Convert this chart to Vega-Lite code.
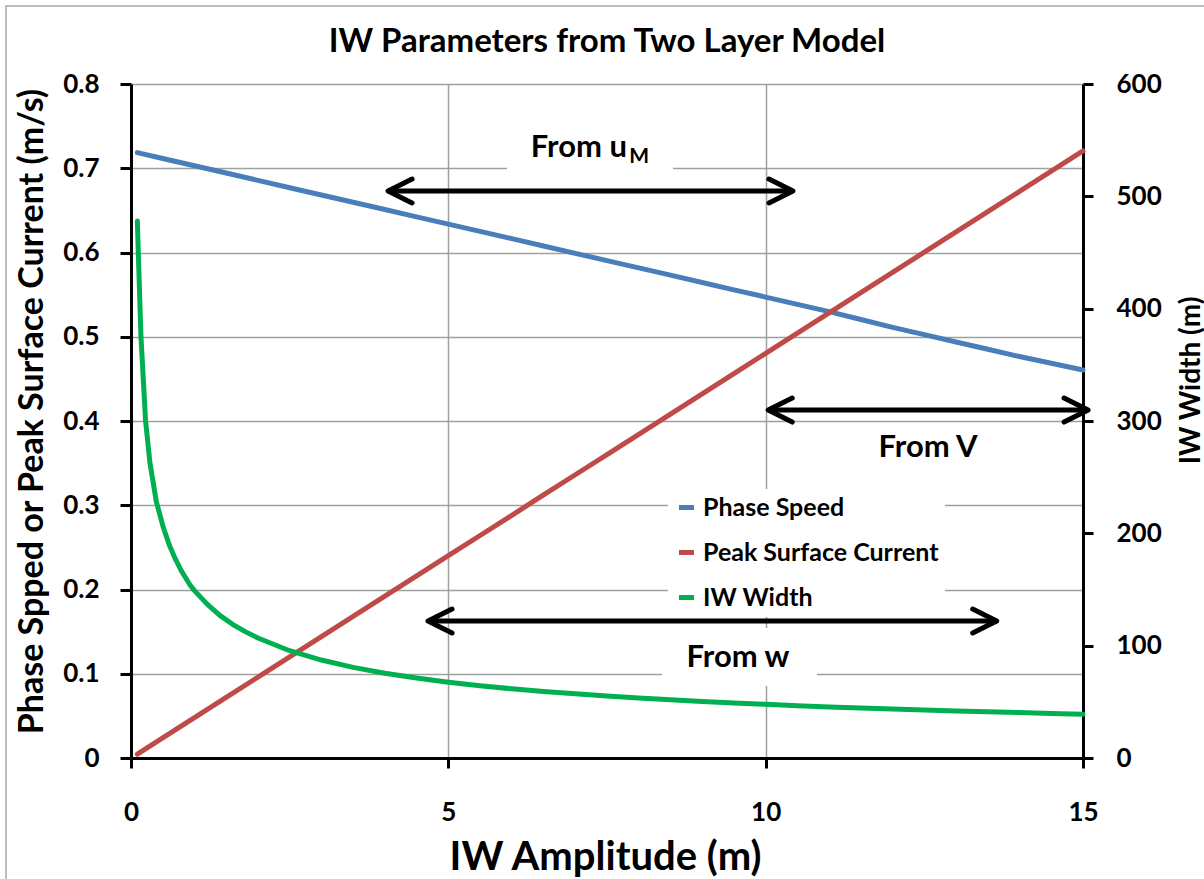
{
  "$schema": "https://vega.github.io/schema/vega-lite/v6.json",
  "width": 952,
  "height": 674,
  "autosize": {"type": "none"},
  "padding": {"left": 131, "top": 84, "right": 121, "bottom": 121},
  "background": "white",
  "config": {
    "view": {"stroke": null},
    "font": "Lato",
    "axis": {"labelFlush": false, "labelOverlap": false},
    "legend": {
      "orient": "none",
      "legendX": 537,
      "legendY": 405,
      "fillColor": "white",
      "padding": 6,
      "symbolType": "stroke",
      "symbolSize": 225,
      "symbolStrokeWidth": 5,
      "labelFont": "Lato",
      "labelFontWeight": "bold",
      "labelFontSize": 25,
      "labelColor": "black",
      "labelOffset": 4,
      "labelLimit": 400,
      "rowPadding": 19,
      "titlePadding": 0
    }
  },
  "title": {
    "text": "IW Parameters from Two Layer Model",
    "font": "Lato",
    "fontSize": 33,
    "fontWeight": "bold",
    "color": "black",
    "anchor": "middle",
    "frame": "group",
    "baseline": "alphabetic",
    "offset": -80
  },
  "datasets": {
    "speed": [
      {"A": 0.1, "series": "Phase Speed", "v": 0.7185},
      {"A": 0.5, "series": "Phase Speed", "v": 0.7116},
      {"A": 1.0, "series": "Phase Speed", "v": 0.7029},
      {"A": 1.5, "series": "Phase Speed", "v": 0.6943},
      {"A": 2.0, "series": "Phase Speed", "v": 0.6856},
      {"A": 2.5, "series": "Phase Speed", "v": 0.6769},
      {"A": 3.0, "series": "Phase Speed", "v": 0.6683},
      {"A": 3.5, "series": "Phase Speed", "v": 0.6596},
      {"A": 4.0, "series": "Phase Speed", "v": 0.651},
      {"A": 4.5, "series": "Phase Speed", "v": 0.6423},
      {"A": 5.0, "series": "Phase Speed", "v": 0.6337},
      {"A": 5.5, "series": "Phase Speed", "v": 0.625},
      {"A": 6.0, "series": "Phase Speed", "v": 0.6164},
      {"A": 6.5, "series": "Phase Speed", "v": 0.6077},
      {"A": 7.0, "series": "Phase Speed", "v": 0.599},
      {"A": 7.5, "series": "Phase Speed", "v": 0.5904},
      {"A": 8.0, "series": "Phase Speed", "v": 0.5817},
      {"A": 8.5, "series": "Phase Speed", "v": 0.5731},
      {"A": 9.0, "series": "Phase Speed", "v": 0.5644},
      {"A": 9.5, "series": "Phase Speed", "v": 0.5557},
      {"A": 10.0, "series": "Phase Speed", "v": 0.5471},
      {"A": 10.5, "series": "Phase Speed", "v": 0.5384},
      {"A": 11.0, "series": "Phase Speed", "v": 0.5298},
      {"A": 11.5, "series": "Phase Speed", "v": 0.5205},
      {"A": 12.0, "series": "Phase Speed", "v": 0.5112},
      {"A": 12.5, "series": "Phase Speed", "v": 0.5025},
      {"A": 13.0, "series": "Phase Speed", "v": 0.4938},
      {"A": 13.5, "series": "Phase Speed", "v": 0.4852},
      {"A": 14.0, "series": "Phase Speed", "v": 0.4765},
      {"A": 14.5, "series": "Phase Speed", "v": 0.4685},
      {"A": 15.0, "series": "Phase Speed", "v": 0.4605},
      {"A": 0.1, "series": "Peak Surface Current", "v": 0.0047},
      {"A": 0.5, "series": "Peak Surface Current", "v": 0.0239},
      {"A": 1.0, "series": "Peak Surface Current", "v": 0.0479},
      {"A": 1.5, "series": "Peak Surface Current", "v": 0.072},
      {"A": 2.0, "series": "Peak Surface Current", "v": 0.096},
      {"A": 2.5, "series": "Peak Surface Current", "v": 0.12},
      {"A": 3.0, "series": "Peak Surface Current", "v": 0.144},
      {"A": 3.5, "series": "Peak Surface Current", "v": 0.168},
      {"A": 4.0, "series": "Peak Surface Current", "v": 0.1921},
      {"A": 4.5, "series": "Peak Surface Current", "v": 0.2161},
      {"A": 5.0, "series": "Peak Surface Current", "v": 0.2401},
      {"A": 5.5, "series": "Peak Surface Current", "v": 0.2641},
      {"A": 6.0, "series": "Peak Surface Current", "v": 0.2881},
      {"A": 6.5, "series": "Peak Surface Current", "v": 0.3122},
      {"A": 7.0, "series": "Peak Surface Current", "v": 0.3362},
      {"A": 7.5, "series": "Peak Surface Current", "v": 0.3602},
      {"A": 8.0, "series": "Peak Surface Current", "v": 0.3842},
      {"A": 8.5, "series": "Peak Surface Current", "v": 0.4082},
      {"A": 9.0, "series": "Peak Surface Current", "v": 0.4323},
      {"A": 9.5, "series": "Peak Surface Current", "v": 0.4563},
      {"A": 10.0, "series": "Peak Surface Current", "v": 0.4803},
      {"A": 10.5, "series": "Peak Surface Current", "v": 0.5043},
      {"A": 11.0, "series": "Peak Surface Current", "v": 0.5283},
      {"A": 11.5, "series": "Peak Surface Current", "v": 0.5524},
      {"A": 12.0, "series": "Peak Surface Current", "v": 0.5764},
      {"A": 12.5, "series": "Peak Surface Current", "v": 0.6004},
      {"A": 13.0, "series": "Peak Surface Current", "v": 0.6244},
      {"A": 13.5, "series": "Peak Surface Current", "v": 0.6484},
      {"A": 14.0, "series": "Peak Surface Current", "v": 0.6725},
      {"A": 14.5, "series": "Peak Surface Current", "v": 0.6965},
      {"A": 15.0, "series": "Peak Surface Current", "v": 0.7205}
    ],
    "width": [
      {"A": 0.1, "series": "IW Width", "w": 478},
      {"A": 0.115, "series": "IW Width", "w": 450},
      {"A": 0.157, "series": "IW Width", "w": 375},
      {"A": 0.23, "series": "IW Width", "w": 300},
      {"A": 0.3, "series": "IW Width", "w": 262},
      {"A": 0.4, "series": "IW Width", "w": 228},
      {"A": 0.5, "series": "IW Width", "w": 207},
      {"A": 0.6, "series": "IW Width", "w": 190},
      {"A": 0.7, "series": "IW Width", "w": 177},
      {"A": 0.8, "series": "IW Width", "w": 166},
      {"A": 0.93, "series": "IW Width", "w": 154},
      {"A": 1.0, "series": "IW Width", "w": 149},
      {"A": 1.2, "series": "IW Width", "w": 137},
      {"A": 1.4, "series": "IW Width", "w": 127},
      {"A": 1.6, "series": "IW Width", "w": 119},
      {"A": 1.8, "series": "IW Width", "w": 112.5},
      {"A": 2.0, "series": "IW Width", "w": 106.8},
      {"A": 2.5, "series": "IW Width", "w": 95.5},
      {"A": 3.0, "series": "IW Width", "w": 87.2},
      {"A": 3.5, "series": "IW Width", "w": 80.7},
      {"A": 4.0, "series": "IW Width", "w": 75.5},
      {"A": 4.5, "series": "IW Width", "w": 71.2},
      {"A": 5.0, "series": "IW Width", "w": 67.5},
      {"A": 5.5, "series": "IW Width", "w": 64.4},
      {"A": 6.0, "series": "IW Width", "w": 61.6},
      {"A": 6.5, "series": "IW Width", "w": 59.2},
      {"A": 7.0, "series": "IW Width", "w": 57.1},
      {"A": 7.5, "series": "IW Width", "w": 55.1},
      {"A": 8.0, "series": "IW Width", "w": 53.4},
      {"A": 8.5, "series": "IW Width", "w": 51.8},
      {"A": 9.0, "series": "IW Width", "w": 50.3},
      {"A": 9.5, "series": "IW Width", "w": 49.0},
      {"A": 10.0, "series": "IW Width", "w": 47.8},
      {"A": 10.5, "series": "IW Width", "w": 46.6},
      {"A": 11.0, "series": "IW Width", "w": 45.5},
      {"A": 11.5, "series": "IW Width", "w": 44.5},
      {"A": 12.0, "series": "IW Width", "w": 43.6},
      {"A": 12.5, "series": "IW Width", "w": 42.7},
      {"A": 13.0, "series": "IW Width", "w": 41.9},
      {"A": 13.5, "series": "IW Width", "w": 41.1},
      {"A": 14.0, "series": "IW Width", "w": 40.4},
      {"A": 14.5, "series": "IW Width", "w": 39.7},
      {"A": 15.0, "series": "IW Width", "w": 39.0}
    ],
    "frame": [{"x1": -1.9695, "x2": 30, "y1": 0.8926, "y2": -1}],
    "boxes": [
      {"x1": 5.924, "x2": 8.54, "y1": 0.6865, "y2": 0.7478},
      {"x1": 11.408, "x2": 13.771, "y1": 0.3418, "y2": 0.3953},
      {"x1": 8.367, "x2": 10.809, "y1": 0.0855, "y2": 0.1543}
    ],
    "arrows": [
      {"x1": 4.05, "x2": 10.43, "y": 0.673},
      {"x1": 10.04, "x2": 15.08, "y": 0.413},
      {"x1": 4.68, "x2": 13.64, "y": 0.1626}
    ],
    "heads": [
      {"A": 4.05, "v": 0.673, "dir": "L"},
      {"A": 10.43, "v": 0.673, "dir": "R"},
      {"A": 10.04, "v": 0.413, "dir": "L"},
      {"A": 15.08, "v": 0.413, "dir": "R"},
      {"A": 4.68, "v": 0.1626, "dir": "L"},
      {"A": 13.64, "v": 0.1626, "dir": "R"}
    ],
    "notes": [
      {"A": 12.558, "v": 0.3573, "label": "From V"},
      {"A": 9.564, "v": 0.108, "label": "From w"}
    ],
    "noteU": [{"A": 7.815, "v": 0.7134, "label": "From u"}],
    "noteM": [{"A": 7.85, "v": 0.7062, "label": "M"}]
  },
  "layer": [
    {
      "layer": [
        {
          "data": {"name": "speed"},
          "mark": {"type": "line", "strokeWidth": 5, "strokeCap": "round", "strokeJoin": "round"},
          "encoding": {
            "x": {
              "field": "A", "type": "quantitative",
              "scale": {"domain": [0, 15], "nice": false, "zero": false},
              "axis": {
                "values": [0, 5, 10, 15],
                "format": "d",
                "labelFlush": false,
                "title": "IW Amplitude (m)",
                "grid": true, "gridColor": "#a0a0a0", "gridWidth": 1.5,
                "domainColor": "black", "domainWidth": 3,
                "tickColor": "black", "tickWidth": 3, "tickSize": 10,
                "labelFont": "Lato", "labelFontWeight": "bold", "labelFontSize": 26, "labelColor": "black",
                "labelPadding": 31,
                "titleFont": "Lato", "titleFontWeight": "bold", "titleFontSize": 40, "titleColor": "black",
                "titleBaseline": "alphabetic", "titleX": 474, "titleY": 111, "titleAlign": "center"
              }
            },
            "y": {
              "field": "v", "type": "quantitative",
              "scale": {"domain": [0, 0.8], "nice": false, "zero": false},
              "axis": {
                "orient": "left",
                "values": [0, 0.1, 0.2, 0.3, 0.4, 0.5, 0.6, 0.7, 0.8],
                "format": ".1~f",
                "labelFlush": false,
                "title": "Phase Spped or Peak Surface Current (m/s)",
                "grid": true, "gridColor": "#a0a0a0", "gridWidth": 1.5,
                "domainColor": "black", "domainWidth": 3,
                "tickColor": "black", "tickWidth": 3, "tickSize": 11,
                "labelFont": "Lato", "labelFontWeight": "bold", "labelFontSize": 26, "labelColor": "black",
                "labelPadding": 21,
                "titleFont": "Lato", "titleFontWeight": "bold", "titleFontSize": 34, "titleColor": "black",
                "titleAngle": -90, "titleBaseline": "alphabetic", "titleAlign": "center",
                "titleX": -89, "titleY": 327
              }
            },
            "color": {
              "field": "series", "type": "nominal",
              "scale": {"domain": ["Phase Speed", "Peak Surface Current", "IW Width"], "range": ["#4A7EBB", "#BE4B48", "#00B050"]},
              "legend": {"title": null}
            }
          }
        },
        {
          "data": {"name": "frame"},
          "mark": {"type": "rect", "filled": false, "fillOpacity": 0, "stroke": "#bdbdbd", "strokeWidth": 2, "clip": false},
          "encoding": {
            "x": {"field": "x1", "type": "quantitative"},
            "x2": {"field": "x2"},
            "y": {"field": "y1", "type": "quantitative"},
            "y2": {"field": "y2"}
          }
        },
        {
          "data": {"name": "boxes"},
          "mark": {"type": "rect", "fill": "white", "strokeWidth": 0},
          "encoding": {
            "x": {"field": "x1", "type": "quantitative"},
            "x2": {"field": "x2"},
            "y": {"field": "y1", "type": "quantitative"},
            "y2": {"field": "y2"}
          }
        },
        {
          "data": {"name": "arrows"},
          "mark": {"type": "rule", "color": "black", "strokeWidth": 5},
          "encoding": {
            "x": {"field": "x1", "type": "quantitative"},
            "x2": {"field": "x2"},
            "y": {"field": "y", "type": "quantitative"}
          }
        },
        {
          "data": {"name": "heads"},
          "mark": {"type": "point", "filled": false, "stroke": "black", "strokeWidth": 5, "strokeCap": "round", "strokeJoin": "round", "size": 2304, "opacity": 1},
          "encoding": {
            "x": {"field": "A", "type": "quantitative"},
            "y": {"field": "v", "type": "quantitative"},
            "shape": {
              "field": "dir", "type": "nominal",
              "scale": {"domain": ["L", "R"], "range": ["M1,-0.5L0,0L1,0.5", "M-1,-0.5L0,0L-1,0.5"]},
              "legend": null
            }
          }
        },
        {
          "data": {"name": "notes"},
          "mark": {"type": "text", "font": "Lato", "fontWeight": "bold", "fontSize": 31, "color": "black", "align": "center", "baseline": "alphabetic"},
          "encoding": {
            "x": {"field": "A", "type": "quantitative"},
            "y": {"field": "v", "type": "quantitative"},
            "text": {"field": "label"}
          }
        },
        {
          "data": {"name": "noteU"},
          "mark": {"type": "text", "font": "Lato", "fontWeight": "bold", "fontSize": 31, "color": "black", "align": "right", "baseline": "alphabetic"},
          "encoding": {
            "x": {"field": "A", "type": "quantitative"},
            "y": {"field": "v", "type": "quantitative"},
            "text": {"field": "label"}
          }
        },
        {
          "data": {"name": "noteM"},
          "mark": {"type": "text", "font": "Lato", "fontWeight": "bold", "fontSize": 21, "color": "black", "align": "left", "baseline": "alphabetic"},
          "encoding": {
            "x": {"field": "A", "type": "quantitative"},
            "y": {"field": "v", "type": "quantitative"},
            "text": {"field": "label"}
          }
        }
      ]
    },
    {
      "data": {"name": "width"},
      "mark": {"type": "line", "strokeWidth": 5, "strokeCap": "round", "strokeJoin": "round"},
      "encoding": {
        "x": {"field": "A", "type": "quantitative", "scale": {"domain": [0, 15], "nice": false, "zero": false}},
        "y": {
          "field": "w", "type": "quantitative",
          "scale": {"domain": [0, 600], "nice": false, "zero": false},
          "axis": {
            "orient": "right",
            "values": [0, 100, 200, 300, 400, 500, 600],
            "labelFlush": false,
            "title": "IW Width (m)",
            "grid": false,
            "domainColor": "black", "domainWidth": 3,
            "tickColor": "black", "tickWidth": 3, "tickSize": 10,
            "labelFont": "Lato", "labelFontWeight": "bold", "labelFontSize": 26, "labelColor": "black",
            "labelPadding": 23,
            "titleFont": "Lato", "titleFontWeight": "bold", "titleFontSize": 28, "titleColor": "black",
            "titleAngle": -90, "titleBaseline": "alphabetic", "titleAlign": "center",
            "titleX": 116, "titleY": 296
          }
        },
        "color": {
          "field": "series", "type": "nominal",
          "scale": {"domain": ["Phase Speed", "Peak Surface Current", "IW Width"], "range": ["#4A7EBB", "#BE4B48", "#00B050"]},
          "legend": {"title": null}
        }
      }
    }
  ],
  "resolve": {"scale": {"y": "independent"}}
}
